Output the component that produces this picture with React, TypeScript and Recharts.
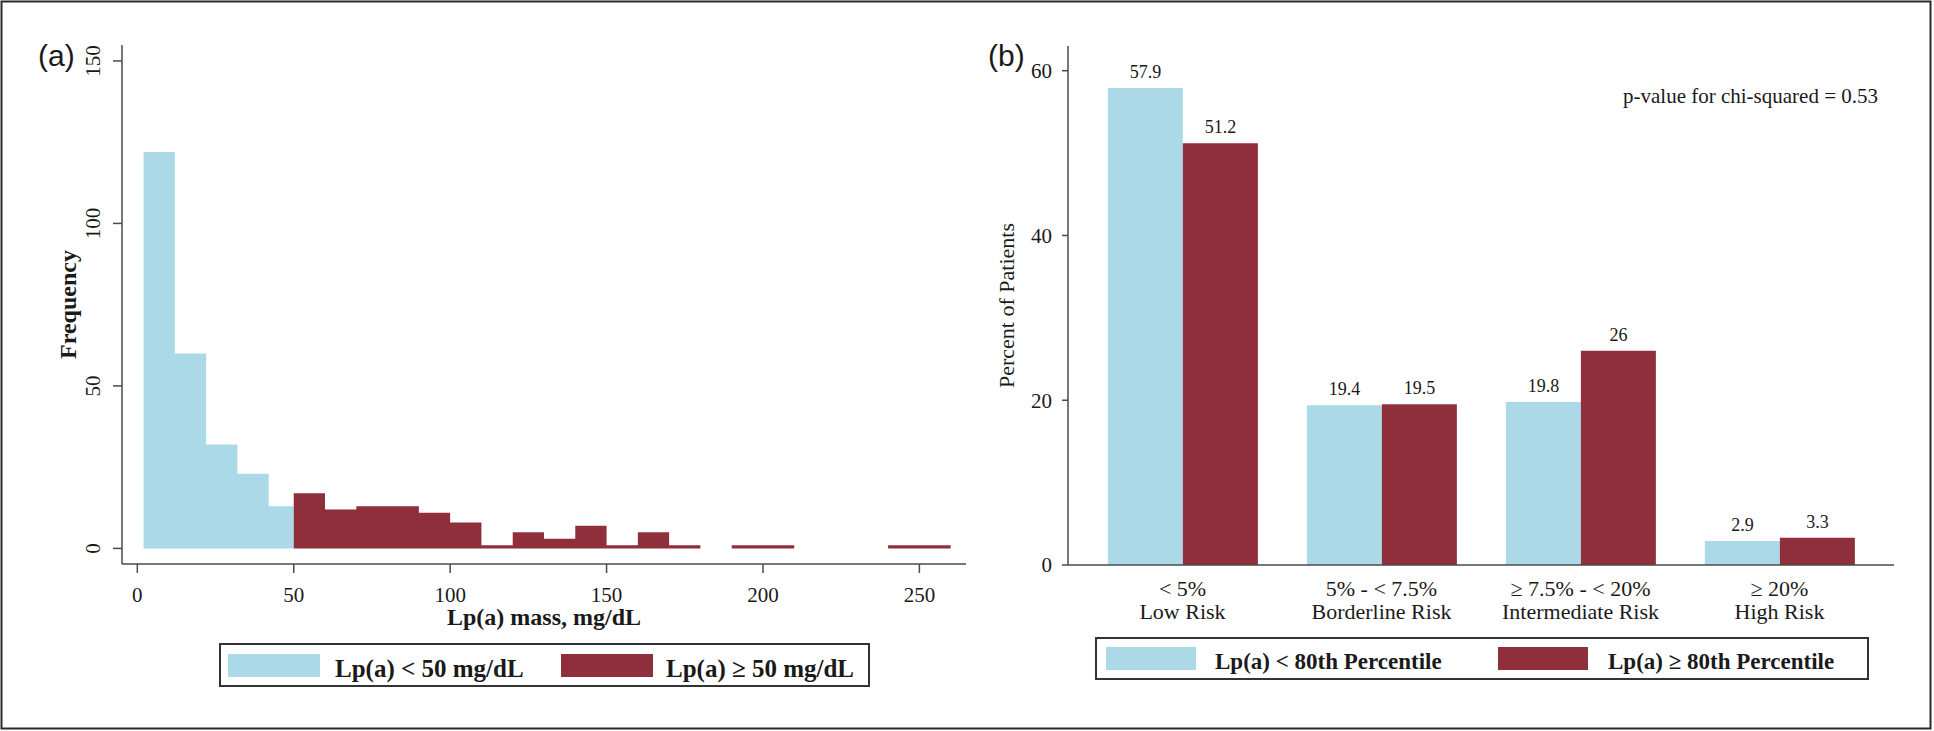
import React from 'react';
import {
  ComposedChart,
  Area,
  XAxis,
  YAxis,
  Legend,
  BarChart,
  Bar,
  LabelList,
  Label,
} from 'recharts';

// ---------- Panel (a): histogram of Lp(a) mass ----------
const lowBinEdges = [2, 12, 22, 32, 42, 50];
const lowFreq = [122, 60, 32, 23, 13];
const highBinEdges = [50, 60, 70, 80, 90, 100, 110, 120, 130, 140, 150, 160, 170, 180, 190, 200, 210, 220, 230, 240, 250, 260];
const highFreq = [17, 12, 13, 13, 11, 8, 1, 5, 3, 7, 1, 5, 1, 0, 1, 1, 0, 0, 0, 1, 1];
const histXTicks = [0, 50, 100, 150, 200, 250];
const histYTicks = [0, 50, 100, 150];
const lowName = 'Lp(a) < 50 mg/dL';
const highName = 'Lp(a) \u2265 50 mg/dL';

// ---------- Panel (b): risk categories ----------
const riskRange = ['< 5%', '5% - < 7.5%', '\u2265 7.5% - < 20%', '\u2265 20%'];
const riskLabel = ['Low Risk', 'Borderline Risk', 'Intermediate Risk', 'High Risk'];
const pctLow = [57.9, 19.4, 19.8, 2.9];
const pctHigh = [51.2, 19.5, 26, 3.3];
const pctYTicks = [0, 20, 40, 60];
const lowPctName = 'Lp(a) < 80th Percentile';
const highPctName = 'Lp(a) \u2265 80th Percentile';

const BLUE = '#ABD9E7';
const RED = '#8E2F3B';
const AXIS = '#4a4a4a';
const INK = '#1a1a1a';
const SERIF = '"Liberation Serif", "Times New Roman", Times, serif';
const SANS = '"Liberation Sans", Arial, Helvetica, sans-serif';

// step-area rows (each edge starts a bin; the last edge closes the series)
const allEdges = Array.from(new Set([...lowBinEdges, ...highBinEdges])).sort((a, b) => a - b);
const histData = allEdges.map((x) => {
  const li = lowBinEdges.indexOf(x);
  const hi = highBinEdges.indexOf(x);
  return {
    x,
    low: li < 0 ? null : li < lowFreq.length ? lowFreq[li] : 0,
    high: hi < 0 ? null : hi < highFreq.length ? highFreq[hi] : 0,
  };
});

const riskData = riskRange.map((r, i) => ({
  range: r,
  label: riskLabel[i],
  low: pctLow[i],
  high: pctHigh[i],
}));

const RotatedYTick = (props: any) => {
  const { x, y, payload } = props;
  return (
    <text
      x={x}
      y={y}
      transform={`rotate(-90, ${x}, ${y})`}
      textAnchor="middle"
      fontSize={21}
      fontFamily={SERIF}
      fill={INK}
    >
      {payload.value}
    </text>
  );
};

const RiskTick = (props: any) => {
  const { x, y, payload } = props;
  const i = riskRange.indexOf(payload.value);
  return (
    <text x={x} y={y} textAnchor="middle" fontSize={22} fontFamily={SERIF} fill={INK}>
      <tspan x={x} y={y + 31}>{riskRange[i]}</tspan>
      <tspan x={x} y={y + 54}>{riskLabel[i]}</tspan>
    </text>
  );
};

const makeLegend = (
  w: number,
  h: number,
  swatchX: number[],
  textX: number[],
  swY: number,
  swW: number,
  swH: number,
  baseY: number,
  fontSize: number
) => (props: any) => {
  const items = (props.payload || []).slice(0, 2);
  return (
    <svg width={w} height={h} style={{ display: 'block' }}>
      <rect x={1} y={1} width={w - 2} height={h - 2} fill="#fff" stroke="#333" strokeWidth={2} />
      {items.map((it: any, i: number) => (
        <g key={i}>
          <rect x={swatchX[i]} y={swY} width={swW} height={swH} fill={it.color} />
          <text x={textX[i]} y={baseY} fontSize={fontSize} fontWeight="bold" fontFamily={SERIF} fill={INK}>
            {it.value}
          </text>
        </g>
      ))}
    </svg>
  );
};

const legendA = makeLegend(651, 44, [9, 342], [116, 447], 11, 92, 23, 34, 25);
const legendB = makeLegend(774, 43, [11, 403], [120, 513], 10, 90, 23, 32, 23);

const XLabelA = (props: any) => {
  const vb = props.viewBox || { x: 122, y: 564, width: 844, height: 30 };
  return (
    <text
      x={vb.x + vb.width / 2}
      y={vb.y + 61}
      textAnchor="middle"
      fontSize={24}
      fontWeight="bold"
      fontFamily={SERIF}
      fill={INK}
    >
      Lp(a) mass, mg/dL
    </text>
  );
};

const YLabelA = (props: any) => {
  const vb = props.viewBox || { x: 0, y: 45, width: 122, height: 519 };
  const cx = vb.x + 76;
  const cy = vb.y + vb.height / 2;
  return (
    <text
      x={cx}
      y={cy}
      transform={`rotate(-90, ${cx}, ${cy})`}
      textAnchor="middle"
      fontSize={24}
      fontWeight="bold"
      fontFamily={SERIF}
      fill={INK}
    >
      Frequency
    </text>
  );
};

const YLabelB = (props: any) => {
  const vb = props.viewBox || { x: 0, y: 46, width: 101, height: 519 };
  const cx = vb.x + 47;
  const cy = vb.y + vb.height / 2;
  return (
    <text
      x={cx}
      y={cy}
      transform={`rotate(-90, ${cx}, ${cy})`}
      textAnchor="middle"
      fontSize={22}
      fontFamily={SERIF}
      fill={INK}
    >
      Percent of Patients
    </text>
  );
};

export default function App() {
  return (
    <div
      style={{
        position: 'fixed',
        left: 0,
        top: 0,
        width: 1934,
        height: 731,
        background: '#fff',
        overflow: 'hidden',
      }}
    >
      <div style={{ position: 'absolute', left: 0, top: 0 }}>
        <ComposedChart
          width={990}
          height={731}
          data={histData}
          margin={{ top: 45, right: 24, bottom: 137, left: 0 }}
        >
          <XAxis
            dataKey="x"
            type="number"
            domain={[-4.9, 264.9]}
            ticks={histXTicks}
            interval={0}
            height={30}
            tickSize={9}
            tickMargin={14}
            axisLine={{ stroke: AXIS, strokeWidth: 1.5 }}
            tickLine={{ stroke: AXIS, strokeWidth: 1.5 }}
            tick={{ fontSize: 21, fontFamily: SERIF, fill: INK }}
          >
            <Label content={XLabelA} />
          </XAxis>
          <YAxis
            type="number"
            domain={[-4.8, 154.9]}
            ticks={histYTicks}
            interval={0}
            width={122}
            tickSize={9}
            tickMargin={13}
            axisLine={{ stroke: AXIS, strokeWidth: 1.5 }}
            tickLine={{ stroke: AXIS, strokeWidth: 1.5 }}
            tick={<RotatedYTick />}
          >
            <Label content={YLabelA} />
          </YAxis>
          <Area
            dataKey="low"
            name={lowName}
            type="stepAfter"
            fill={BLUE}
            fillOpacity={1}
            stroke="none"
            isAnimationActive={false}
            dot={false}
            activeDot={false}
          />
          <Area
            dataKey="high"
            name={highName}
            type="stepAfter"
            fill={RED}
            fillOpacity={1}
            stroke="none"
            isAnimationActive={false}
            dot={false}
            activeDot={false}
          />
          <Legend
            layout="vertical"
            align="center"
            verticalAlign="middle"
            content={legendA}
            wrapperStyle={{ left: 219, top: 643, width: 651, height: 44 }}
          />
        </ComposedChart>
      </div>

      <div style={{ position: 'absolute', left: 967, top: 0 }}>
        <BarChart
          width={967}
          height={731}
          data={riskData}
          margin={{ top: 46, right: 40, bottom: 106, left: 0 }}
          barCategoryGap="12.5%"
          barGap={0}
        >
          <XAxis
            dataKey="range"
            type="category"
            height={60}
            padding={{ left: 15, right: 15 }}
            tickLine={false}
            tickSize={0}
            tickMargin={0}
            interval={0}
            axisLine={{ stroke: AXIS, strokeWidth: 1.5 }}
            tick={<RiskTick />}
          />
          <YAxis
            type="number"
            domain={[0, 63]}
            ticks={pctYTicks}
            interval={0}
            width={101}
            tickSize={6}
            tickMargin={10}
            axisLine={{ stroke: AXIS, strokeWidth: 1.5 }}
            tickLine={{ stroke: AXIS, strokeWidth: 1.5 }}
            tick={{ fontSize: 21, fontFamily: SERIF, fill: INK }}
          >
            <Label content={YLabelB} />
          </YAxis>
          <Bar dataKey="low" name={lowPctName} fill={BLUE} isAnimationActive={false}>
            <LabelList dataKey="low" position="top" offset={10} fontSize={18} fontFamily={SERIF} fill={INK} />
          </Bar>
          <Bar dataKey="high" name={highPctName} fill={RED} isAnimationActive={false}>
            <LabelList dataKey="high" position="top" offset={10} fontSize={18} fontFamily={SERIF} fill={INK} />
          </Bar>
          <Legend
            layout="vertical"
            align="center"
            verticalAlign="middle"
            content={legendB}
            wrapperStyle={{ left: 128, top: 637, width: 774, height: 43 }}
          />
        </BarChart>
      </div>

      <svg
        width={1934}
        height={731}
        style={{ position: 'absolute', left: 0, top: 0, pointerEvents: 'none' }}
      >
        <rect x={1.5} y={1.5} width={1929} height={727} fill="none" stroke="#2a2a2a" strokeWidth={2} />
        <text x={38} y={66} fontSize={30} fontFamily={SANS} fill={INK}>(a)</text>
        <text x={988} y={66} fontSize={30} fontFamily={SANS} fill={INK}>(b)</text>
        <text x={1878} y={103} textAnchor="end" fontSize={21} fontFamily={SERIF} fill={INK}>
          p-value for chi-squared = 0.53
        </text>
      </svg>
    </div>
  );
}
